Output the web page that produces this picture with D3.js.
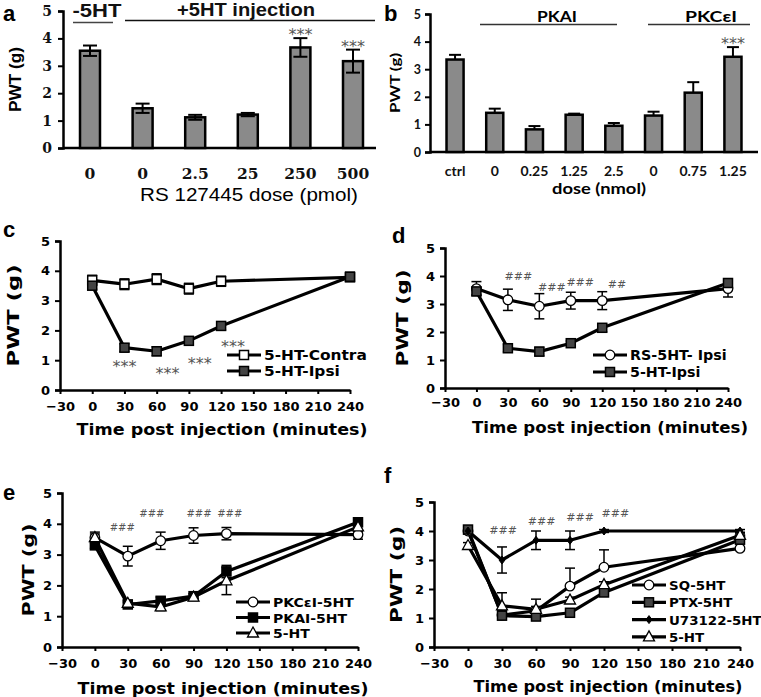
<!DOCTYPE html>
<html><head><meta charset="utf-8">
<script src="https://cdn.jsdelivr.net/npm/d3@7/dist/d3.min.js"></script>
<style>
body{margin:0;background:#fff;}
svg{display:block;}
</style></head>
<body>
<svg id="chart" width="761" height="697"></svg>
<script>
// ---------- Panel a data ----------
const aCategories = ["0", "0", "2.5", "25", "250", "500"];
const aValues = [3.55, 1.45, 1.12, 1.22, 3.67, 3.17];
const aErrors = [0.19, 0.17, 0.09, 0.06, 0.34, 0.42];
const aStars = ["", "", "", "", "***", "***"];
const aYTicks = [0, 1, 2, 3, 4, 5];

// ---------- Panel b data ----------
const bCategories = ["ctrl", "0", "0.25", "1.25", "2.5", "0", "0.75", "1.25"];
const bValues = [3.35, 1.42, 0.82, 1.35, 0.95, 1.32, 2.15, 3.45];
const bErrors = [0.17, 0.15, 0.12, 0.04, 0.1, 0.14, 0.38, 0.35];
const bStars = ["", "", "", "", "", "", "", "***"];

// ---------- Line panels shared ----------
const timeTicks = [-30, 0, 30, 60, 90, 120, 150, 180, 210, 240];
const times = [0, 30, 60, 90, 120, 240];

// Panel c
const cContra = [3.68, 3.55, 3.72, 3.4, 3.65, 3.78];
const cContraErr = [0.17, 0.18, 0.18, 0.18, 0.17, 0.12];
const cIpsi = [3.5, 1.42, 1.3, 1.65, 2.15, 3.8];
const cIpsiErr = [0.12, 0.13, 0.15, 0.1, 0.13, 0.15];
const cStarX = [30, 70, 100, 131];
const cStarY = [0.6, 0.37, 0.7, 1.27];

// Panel d
const dRS = [3.55, 3.15, 2.92, 3.12, 3.12, 3.55];
const dRSErr = [0.25, 0.38, 0.45, 0.3, 0.32, 0.3];
const dIpsi = [3.45, 1.42, 1.3, 1.6, 2.15, 3.75];
const dIpsiErr = [0.12, 0.13, 0.15, 0.08, 0.14, 0.15];
const dHashX = [40, 72, 99, 134];
const dHashY = [3.86, 3.46, 3.64, 3.57];
const dHashText = ["###", "###", "###", "##"];

// Panel e
const ePKCe = [3.55, 2.95, 3.45, 3.62, 3.68, 3.65];
const ePKCeErr = [0.18, 0.32, 0.28, 0.25, 0.2, 0.15];
const ePKA = [3.3, 1.38, 1.5, 1.65, 2.45, 4.05];
const ePKAErr = [0.1, 0.08, 0.12, 0.08, 0.2, 0.12];
const eHT = [3.55, 1.42, 1.3, 1.62, 2.15, 3.9];
const eHTErr = [0.12, 0.1, 0.12, 0.1, 0.45, 0.15];
const eHashX = [25, 52, 95, 123];
const eHashY = [3.77, 4.22, 4.22, 4.22];

// Panel f
const fSQ = [4.0, 1.1, 1.25, 2.1, 2.75, 3.4];
const fSQErr = [0.1, 0.15, 0.15, 0.62, 0.6, 0.5];
const fPTX = [4.05, 1.08, 1.05, 1.18, 1.88, 3.7];
const fPTXErr = [0.1, 0.1, 0.1, 0.1, 0.1, 0.1];
const fU73 = [4.0, 3.0, 3.68, 3.68, 4.0, 4.0];
const fU73Err = [0.1, 0.45, 0.32, 0.32, 0.05, 0.05];
const fHT = [3.5, 1.42, 1.3, 1.62, 2.15, 3.85];
const fHTErr = [0.1, 0.45, 0.35, 0.1, 0.1, 0.1];
const fHashX = [31, 65, 99, 130];
const fHashY = [3.9, 4.2, 4.34, 4.48];

const svg = d3.select("#chart");
const SANS = "'DejaVu Sans', Verdana, sans-serif";
const ARIAL = "'Liberation Sans', Arial, sans-serif";
const SERIF = "'DejaVu Serif', 'Liberation Serif', serif";
const LATO = "Lato, 'Open Sans', sans-serif";

function fit(sel, len) {
  sel.attr("textLength", len).attr("lengthAdjust", "spacingAndGlyphs");
  return sel;
}
function stretch(sel, factor) {
  sel.each(function () {
    const l = this.getComputedTextLength();
    d3.select(this).attr("textLength", l * factor).attr("lengthAdjust", "spacingAndGlyphs");
  });
  return sel;
}

function panelLetter(txt, x, y) {
  svg.append("text").attr("x", x).attr("y", y).text(txt)
    .attr("font-family", ARIAL).attr("font-weight", "bold").attr("font-size", 22);
}

// ---------- bar panel ----------
function barPanel(opt) {
  const g = svg.append("g");
  const x = d3.scaleBand().domain(d3.range(opt.cats.length)).range(opt.xr).paddingInner(opt.pad).paddingOuter(opt.pad / 2);
  const y = d3.scaleLinear().domain([0, 5]).range(opt.yr);
  const yAx = g.append("g").attr("transform", `translate(${opt.axisX},0)`)
    .call(d3.axisLeft(y).tickValues(aYTicks).tickSize(5).tickFormat(d3.format("d")));
  yAx.select(".domain").attr("stroke-width", 2.5);
  yAx.selectAll(".tick line").attr("stroke-width", 2);
  yAx.selectAll("text").attr("font-family", opt.tickFont).attr("font-weight", "bold")
    .attr("font-size", opt.yTickSize).attr("x", -opt.yTickGap).attr("fill", "#111");
  g.append("line").attr("x1", opt.axisX).attr("x2", opt.axisEnd).attr("y1", y(0)).attr("y2", y(0))
    .attr("stroke", "#000").attr("stroke-width", 2.5);
  const cx = i => x(i) + x.bandwidth() / 2;
  g.selectAll("rect.bar").data(opt.vals).join("rect")
    .attr("x", (d, i) => x(i)).attr("width", x.bandwidth())
    .attr("y", d => y(d)).attr("height", d => y(0) - y(d))
    .attr("fill", "#8a8a8a").attr("stroke", "#000").attr("stroke-width", 2.5);
  opt.vals.forEach((v, i) => {
    const e = opt.errs[i];
    const lo = opt.both ? v - e : v;
    g.append("line").attr("x1", cx(i)).attr("x2", cx(i)).attr("y1", y(lo)).attr("y2", y(v + e))
      .attr("stroke", "#000").attr("stroke-width", 2);
    const cw = opt.cap;
    g.append("line").attr("x1", cx(i) - cw).attr("x2", cx(i) + cw).attr("y1", y(v + e)).attr("y2", y(v + e))
      .attr("stroke", "#000").attr("stroke-width", 2);
    if (opt.both) g.append("line").attr("x1", cx(i) - cw).attr("x2", cx(i) + cw).attr("y1", y(lo)).attr("y2", y(lo))
      .attr("stroke", "#000").attr("stroke-width", 2);
    if (opt.stars[i]) g.append("text").attr("x", cx(i)).attr("y", y(v + e) + 2).attr("text-anchor", "middle")
      .text(opt.stars[i]).attr("font-family", SANS).attr("font-size", 16).attr("fill", "#555");
  });
  g.selectAll("text.xl").data(opt.cats).join("text")
    .attr("x", (d, i) => cx(i)).attr("y", opt.xLabelY).attr("text-anchor", "middle").text(d => d)
    .attr("font-family", opt.tickFont).attr("font-weight", "bold").attr("font-size", opt.xTickSize).attr("fill", "#111");
  fit(g.append("text").attr("x", opt.titleX).attr("y", opt.titleY).attr("text-anchor", "middle").text(opt.title)
    .attr("font-family", opt.titleFont).attr("font-weight", opt.titleWeight).attr("font-size", opt.titleSize), opt.titleLen);
  fit(g.append("text").attr("transform", `translate(${opt.ylabX},${(opt.yr[0] + opt.yr[1]) / 2}) rotate(-90)`)
    .attr("text-anchor", "middle").text("PWT (g)")
    .attr("font-family", opt.ylabFont).attr("font-weight", "bold").attr("font-size", opt.ylabSize), opt.ylabLen);
  return { x, y, cx };
}

// Panel a
barPanel({ cats: aCategories, vals: aValues, errs: aErrors, stars: aStars, both: true,
  xr: [63.7, 379.3], pad: 0.62, yr: [148, 11], axisX: 63, axisEnd: 376, cap: 7,
  tickFont: SERIF, yTickSize: 14, xTickSize: 15.5, yTickGap: 11, xLabelY: 179,
  title: "RS 127445 dose (pmol)", titleX: 249, titleY: 201, titleFont: ARIAL, titleWeight: "normal", titleSize: 18, titleLen: 218,
  ylabX: 21, ylabSize: 16, ylabFont: ARIAL, ylabLen: 65 });
fit(svg.append("text").attr("x", 97).attr("y", 17).attr("text-anchor", "middle").text("-5HT")
  .attr("font-family", ARIAL).attr("font-size", 19).attr("font-weight", "bold").attr("fill", "#111"), 49);
svg.append("line").attr("x1", 73).attr("x2", 113).attr("y1", 22.5).attr("y2", 22.5).attr("stroke", "#444").attr("stroke-width", 1.5);
fit(svg.append("text").attr("x", 246).attr("y", 16).attr("text-anchor", "middle").text("+5HT injection")
  .attr("font-family", ARIAL).attr("font-size", 19).attr("font-weight", "bold").attr("fill", "#111"), 138);
svg.append("line").attr("x1", 125).attr("x2", 375).attr("y1", 20.5).attr("y2", 20.5).attr("stroke", "#111").attr("stroke-width", 1.5);
panelLetter("a", 3, 21);

// Panel b
barPanel({ cats: bCategories, vals: bValues, errs: bErrors, stars: bStars, both: false,
  xr: [435.2, 752.8], pad: 0.57, yr: [152, 14], axisX: 430, axisEnd: 758, cap: 6,
  tickFont: LATO, yTickSize: 12.5, xTickSize: 14, yTickGap: 9, xLabelY: 176,
  title: "dose (nmol)", titleX: 599, titleY: 194, titleFont: LATO, titleWeight: "bold", titleSize: 16, titleLen: 94,
  ylabX: 400, ylabSize: 14, ylabFont: LATO, ylabLen: 60 });
fit(svg.append("text").attr("x", 557).attr("y", 22).attr("text-anchor", "middle").text("PKAI")
  .attr("font-family", LATO).attr("font-size", 16).attr("font-weight", "bold"), 40);
svg.append("line").attr("x1", 480).attr("x2", 617).attr("y1", 24.5).attr("y2", 24.5).attr("stroke", "#333").attr("stroke-width", 1.5);
fit(svg.append("text").attr("x", 711).attr("y", 22).attr("text-anchor", "middle").text("PKCεI")
  .attr("font-family", LATO).attr("font-size", 16).attr("font-weight", "bold"), 52);
svg.append("line").attr("x1", 648).attr("x2", 750).attr("y1", 24.5).attr("y2", 24.5).attr("stroke", "#333").attr("stroke-width", 1.5);
panelLetter("b", 384, 21);

// ---------- line panel ----------
function marker(g, type, cx, cy, fill) {
  if (type === "square") g.append("rect").attr("x", cx - 4.5).attr("y", cy - 4.5).attr("width", 9).attr("height", 9)
    .attr("fill", fill).attr("stroke", "#000").attr("stroke-width", 1.5);
  else if (type === "circle") g.append("circle").attr("cx", cx).attr("cy", cy).attr("r", 4.8)
    .attr("fill", fill).attr("stroke", "#000").attr("stroke-width", 1.3);
  else if (type === "triangle") g.append("path")
    .attr("d", `M${cx},${cy - 6}L${cx + 5.5},${cy + 4}L${cx - 5.5},${cy + 4}Z`)
    .attr("fill", fill).attr("stroke", "#000").attr("stroke-width", 1.3);
  else if (type === "diamond") g.append("path")
    .attr("d", `M${cx},${cy - 4}L${cx + 3},${cy}L${cx},${cy + 4}L${cx - 3},${cy}Z`)
    .attr("fill", fill).attr("stroke", "#000").attr("stroke-width", 1);
}

function linePanel(opt) {
  const g = svg.append("g");
  const x = d3.scaleLinear().domain([-30, 240]).range(opt.xr);
  const y = d3.scaleLinear().domain([0, 5]).range(opt.yr);
  const yAx = g.append("g").attr("transform", `translate(${opt.xr[0]},0)`)
    .call(d3.axisLeft(y).tickValues(aYTicks).tickSize(5).tickFormat(d3.format("d")));
  yAx.select(".domain").attr("stroke-width", 2.5);
  yAx.selectAll(".tick line").attr("stroke-width", 2);
  yAx.selectAll("text").attr("font-family", SANS).attr("font-weight", "bold").attr("font-size", 13).attr("x", -10);
  const xAx = g.append("g").attr("transform", `translate(0,${opt.yr[0]})`)
    .call(d3.axisBottom(x).tickValues(timeTicks).tickSize(4).tickSizeOuter(0).tickFormat(d3.format("d")));
  xAx.select(".domain").attr("stroke-width", 2.5);
  xAx.selectAll(".tick line").attr("stroke-width", 2);
  xAx.selectAll("text").attr("font-family", SANS).attr("font-weight", "bold").attr("font-size", 13).attr("y", opt.tickDy);
  fit(g.append("text").attr("x", opt.titleX).attr("y", opt.titleY).attr("text-anchor", "middle")
    .text("Time post injection (minutes)").attr("font-family", SANS).attr("font-weight", "bold").attr("font-size", 15.5), opt.titleLen);
  fit(g.append("text").attr("transform", `translate(${opt.xr[0] - opt.ylabOff},${(opt.yr[0] + opt.yr[1]) / 2}) rotate(-90)`)
    .attr("text-anchor", "middle").text("PWT (g)").attr("font-family", SANS).attr("font-weight", "bold").attr("font-size", 16), opt.ylabLen);
  const line = d3.line().x((d, i) => x(times[i])).y(d => y(d));
  opt.series.forEach(s => {
    g.append("path").datum(s.vals).attr("d", line).attr("fill", "none").attr("stroke", "#000")
      .attr("stroke-width", 3.2).attr("stroke-linejoin", "round");
  });
  opt.series.forEach(s => {
    s.vals.forEach((v, i) => {
      const e = s.errs[i], px = x(times[i]);
      const lo = s.upOnly ? v : v - e;
      g.append("line").attr("x1", px).attr("x2", px).attr("y1", y(lo)).attr("y2", y(v + e)).attr("stroke", "#000").attr("stroke-width", 1.5);
      g.append("line").attr("x1", px - 5).attr("x2", px + 5).attr("y1", y(v + e)).attr("y2", y(v + e)).attr("stroke", "#000").attr("stroke-width", 1.5);
      if (!s.upOnly) g.append("line").attr("x1", px - 5).attr("x2", px + 5).attr("y1", y(lo)).attr("y2", y(lo)).attr("stroke", "#000").attr("stroke-width", 1.5);
    });
  });
  opt.series.forEach(s => {
    s.vals.forEach((v, i) => marker(g, s.type, x(times[i]), y(v), s.fill));
  });
  opt.notes.x.forEach((t, i) => {
    g.append("text").attr("x", x(t)).attr("y", y(opt.notes.y[i])).attr("text-anchor", "middle")
      .text(opt.notes.text[i]).attr("font-family", SANS).attr("font-size", opt.notes.size).attr("fill", opt.notes.color);
  });
  opt.series.forEach((s, i) => {
    const ly = opt.leg.y + i * opt.leg.dy;
    g.append("line").attr("x1", opt.leg.x).attr("x2", opt.leg.x + 34).attr("y1", ly).attr("y2", ly)
      .attr("stroke", "#000").attr("stroke-width", 3.2);
    marker(g, s.type, opt.leg.x + 17, ly, s.fill);
    stretch(g.append("text").attr("x", opt.leg.x + 37).attr("y", ly + 5).text(s.name)
      .attr("font-family", SANS).attr("font-weight", "bold").attr("font-size", opt.leg.size), opt.leg.factor);
  });
}

// Panel c
linePanel({ xr: [60, 350], yr: [390, 241], tickDy: 12, titleY: 435, titleX: 222, titleLen: 291, ylabOff: 41, ylabLen: 102,
  series: [
    { name: "5-HT-Contra", vals: cContra, errs: cContraErr, type: "square", fill: "#fff" },
    { name: "5-HT-Ipsi", vals: cIpsi, errs: cIpsiErr, type: "square", fill: "#444" }],
  notes: { x: cStarX, y: cStarY, text: ["***", "***", "***", "***"], color: "#555", size: 16 },
  leg: { x: 227, y: 355, dy: 16, size: 14, factor: 1.1 } });
panelLetter("c", 3, 237);

// Panel d
linePanel({ xr: [445, 728], yr: [388, 248], tickDy: 10, titleY: 433, titleX: 610, titleLen: 276, ylabOff: 37, ylabLen: 97,
  series: [
    { name: "RS-5HT- Ipsi", vals: dRS, errs: dRSErr, type: "circle", fill: "#fff" },
    { name: "5-HT-Ipsi", vals: dIpsi, errs: dIpsiErr, type: "square", fill: "#444" }],
  notes: { x: dHashX, y: dHashY, text: dHashText, color: "#555", size: 11 },
  leg: { x: 593, y: 355, dy: 17, size: 14, factor: 1.02 } });
panelLetter("d", 392, 243);

// Panel e
linePanel({ xr: [62, 358], yr: [647, 493], tickDy: 12, titleY: 694, titleX: 223, titleLen: 291, ylabOff: 28, ylabLen: 93,
  series: [
    { name: "PKCεI-5HT", vals: ePKCe, errs: ePKCeErr, type: "circle", fill: "#fff" },
    { name: "PKAI-5HT", vals: ePKA, errs: ePKAErr, type: "square", fill: "#000" },
    { name: "5-HT", vals: eHT, errs: eHTErr, type: "triangle", fill: "#fff" }],
  notes: { x: eHashX, y: eHashY, text: ["###", "###", "###", "###"], color: "#555", size: 10 },
  leg: { x: 236, y: 602, dy: 15.5, size: 13, factor: 1.08 } });
panelLetter("e", 3, 500);

// Panel f
linePanel({ xr: [434, 740], yr: [647, 502], tickDy: 12, titleY: 692, titleX: 608, titleLen: 269, ylabOff: 32, ylabLen: 97,
  series: [
    { name: "SQ-5HT", vals: fSQ, errs: fSQErr, type: "circle", fill: "#fff", upOnly: true },
    { name: "PTX-5HT", vals: fPTX, errs: fPTXErr, type: "square", fill: "#444" },
    { name: "U73122-5HT", vals: fU73, errs: fU73Err, type: "diamond", fill: "#000" },
    { name: "5-HT", vals: fHT, errs: fHTErr, type: "triangle", fill: "#fff", upOnly: true }],
  notes: { x: fHashX, y: fHashY, text: ["###", "###", "###", "###"], color: "#555", size: 11 },
  leg: { x: 632, y: 585, dy: 17.3, size: 13, factor: 1.03 } });
panelLetter("f", 384, 483);
</script>
</body></html>
